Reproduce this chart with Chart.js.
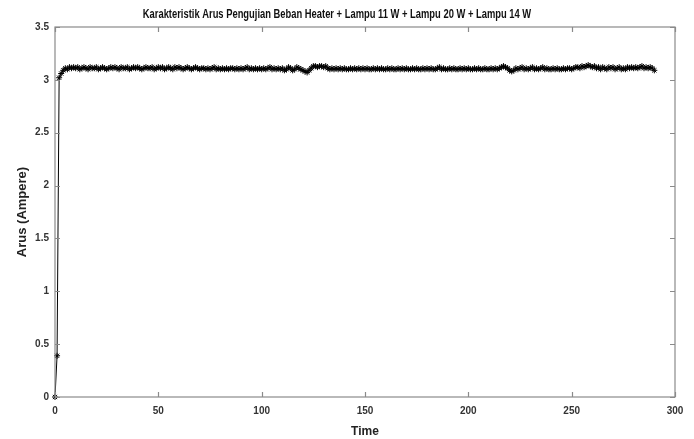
<!DOCTYPE html>
<html>
<head>
<meta charset="utf-8">
<script src="https://cdn.jsdelivr.net/npm/chart.js@4.4.1/dist/chart.umd.min.js"></script>
<style>
  body { margin: 0; background: #fff; }
  #wrap { width: 694px; height: 439px; }
</style>
</head>
<body>
<div id="wrap"><canvas id="arusChart" width="694" height="439"></canvas></div>
<script>
// data, one value per time step (0..290)
const titleText = 'Karakteristik Arus Pengujian Beban Heater + Lampu 11 W + Lampu 20 W + Lampu 14 W';
const xLabel = 'Time';
const yLabel = 'Arus (Ampere)';
const timeStart = 0;
const timeStep = 1;
const arus = [
    0, 0.39, 3.02, 3.06, 3.09, 3.11, 3.10, 3.12, 3.11, 3.12,
    3.11, 3.12, 3.10, 3.11, 3.12, 3.11, 3.10, 3.12, 3.11, 3.11,
    3.12, 3.10, 3.11, 3.12, 3.11, 3.10, 3.11, 3.12, 3.11, 3.12,
    3.11, 3.10, 3.12, 3.11, 3.11, 3.12, 3.10, 3.11, 3.12, 3.11,
    3.12, 3.11, 3.10, 3.11, 3.12, 3.11, 3.11, 3.12, 3.10, 3.11,
    3.12, 3.11, 3.12, 3.10, 3.11, 3.12, 3.11, 3.10, 3.12, 3.11,
    3.12, 3.11, 3.10, 3.11, 3.12, 3.11, 3.10, 3.11, 3.12, 3.11,
    3.10, 3.11, 3.11, 3.10, 3.11, 3.10, 3.11, 3.12, 3.10, 3.11,
    3.10, 3.11, 3.10, 3.11, 3.10, 3.11, 3.11, 3.10, 3.11, 3.10,
    3.11, 3.10, 3.11, 3.12, 3.10, 3.11, 3.10, 3.11, 3.10, 3.11,
    3.10, 3.11, 3.10, 3.11, 3.12, 3.10, 3.11, 3.10, 3.11, 3.10,
    3.11, 3.09, 3.10, 3.12, 3.11, 3.09, 3.10, 3.12, 3.11, 3.10,
    3.09, 3.08, 3.07, 3.09, 3.11, 3.13, 3.13, 3.12, 3.13, 3.13,
    3.12, 3.13, 3.11, 3.10, 3.11, 3.10, 3.11, 3.10, 3.11, 3.10,
    3.11, 3.10, 3.10, 3.11, 3.10, 3.11, 3.10, 3.11, 3.10, 3.11,
    3.10, 3.11, 3.10, 3.10, 3.11, 3.10, 3.11, 3.10, 3.11, 3.10,
    3.10, 3.11, 3.10, 3.11, 3.10, 3.10, 3.11, 3.10, 3.11, 3.10,
    3.11, 3.10, 3.10, 3.11, 3.10, 3.11, 3.10, 3.10, 3.11, 3.10,
    3.11, 3.10, 3.11, 3.10, 3.10, 3.11, 3.12, 3.10, 3.11, 3.10,
    3.10, 3.11, 3.10, 3.11, 3.10, 3.10, 3.11, 3.10, 3.11, 3.10,
    3.11, 3.10, 3.10, 3.11, 3.10, 3.11, 3.10, 3.10, 3.11, 3.10,
    3.10, 3.11, 3.10, 3.11, 3.10, 3.11, 3.12, 3.13, 3.12, 3.11,
    3.09, 3.08, 3.09, 3.11, 3.10, 3.11, 3.12, 3.10, 3.11, 3.10,
    3.11, 3.12, 3.10, 3.11, 3.10, 3.11, 3.12, 3.10, 3.11, 3.10,
    3.10, 3.11, 3.10, 3.11, 3.10, 3.10, 3.11, 3.10, 3.11, 3.11,
    3.10, 3.11, 3.12, 3.12, 3.11, 3.13, 3.12, 3.13, 3.14, 3.13,
    3.12, 3.13, 3.11, 3.12, 3.10, 3.12, 3.11, 3.10, 3.12, 3.11,
    3.12, 3.10, 3.11, 3.12, 3.10, 3.11, 3.10, 3.12, 3.11, 3.12,
    3.11, 3.12, 3.11, 3.12, 3.13, 3.11, 3.12, 3.11, 3.12, 3.11,
    3.09
];
const xMin = 0, xMax = 300, xStepTick = 50;
const yMin = 0, yMax = 3.5, yStepTick = 0.5;

const points = arus.map((v, i) => ({ x: timeStart + i * timeStep, y: v }));

const fontFam = "'Liberation Sans', Arial, Helvetica, sans-serif";
const tickCol = '#333333';
const boxCol = '#8a8a8a';

// matlab style box with ticks pointing inward on all four sides
const boxPlugin = {
    id: 'matlabBox',
    afterDraw(chart) {
        const ctx = chart.ctx;
        const a = chart.chartArea;
        const xs = chart.scales.x, ys = chart.scales.y;
        const len = 5;
        ctx.save();
        ctx.strokeStyle = boxCol;
        ctx.lineWidth = 1.2;
        ctx.strokeRect(a.left, a.top, a.right - a.left, a.bottom - a.top);
        ctx.beginPath();
        xs.ticks.forEach(t => {
            const px = Math.round(xs.getPixelForValue(t.value)) + 0.5;
            ctx.moveTo(px, a.bottom); ctx.lineTo(px, a.bottom - len);
            ctx.moveTo(px, a.top); ctx.lineTo(px, a.top + len);
        });
        ys.ticks.forEach(t => {
            const py = Math.round(ys.getPixelForValue(t.value)) + 0.5;
            ctx.moveTo(a.left, py); ctx.lineTo(a.left + len, py);
            ctx.moveTo(a.right, py); ctx.lineTo(a.right - len, py);
        });
        ctx.stroke();
        ctx.restore();
    }
};

// title in a condensed look (no narrow font installed), squeezed horizontally
const titlePlugin = {
    id: 'narrowTitle',
    afterDraw(chart) {
        const ctx = chart.ctx;
        ctx.save();
        ctx.font = 'bold 12.5px ' + fontFam;
        ctx.fillStyle = '#111';
        ctx.textAlign = 'center';
        ctx.textBaseline = 'middle';
        ctx.translate(337, 15);
        ctx.scale(0.75, 1);
        ctx.fillText(titleText, 0, 0);
        ctx.restore();
    }
};

new Chart(document.getElementById('arusChart'), {
    type: 'line',
    data: {
        datasets: [{
            data: points,
            borderColor: '#000',
            backgroundColor: '#000',
            borderWidth: 1,
            pointStyle: 'star',
            pointRadius: 3,
            pointBorderWidth: 1,
            pointBorderColor: '#000',
            tension: 0,
            clip: false
        }]
    },
    options: {
        responsive: false,
        animation: false,
        layout: { padding: { left: 0, right: 19, top: 27, bottom: 0 } },
        plugins: {
            legend: { display: false },
            tooltip: { enabled: false },
            title: { display: false }
        },
        scales: {
            x: {
                type: 'linear',
                min: xMin, max: xMax,
                grid: { display: false, drawTicks: false },
                border: { display: false },
                ticks: {
                    stepSize: xStepTick,
                    padding: 8,
                    color: tickCol,
                    font: { family: fontFam, size: 10, weight: 'bold' },
                    maxRotation: 0
                },
                title: {
                    display: true,
                    text: xLabel,
                    color: '#222',
                    font: { family: fontFam, size: 12, weight: 'bold' },
                    padding: { top: 6, bottom: 0 }
                },
                afterFit(scale) { scale.height = 42; }
            },
            y: {
                type: 'linear',
                min: yMin, max: yMax,
                grid: { display: false, drawTicks: false },
                border: { display: false },
                ticks: {
                    stepSize: yStepTick,
                    padding: 6,
                    color: tickCol,
                    font: { family: fontFam, size: 10, weight: 'bold' },
                    callback: v => String(v)
                },
                title: {
                    display: true,
                    text: yLabel,
                    color: '#222',
                    font: { family: fontFam, size: 13, weight: 'bold' },
                    padding: { top: 15, bottom: 0 }
                },
                afterFit(scale) { scale.width = 55; }
            }
        }
    },
    plugins: [boxPlugin, titlePlugin]
});
</script>
</body>
</html>
